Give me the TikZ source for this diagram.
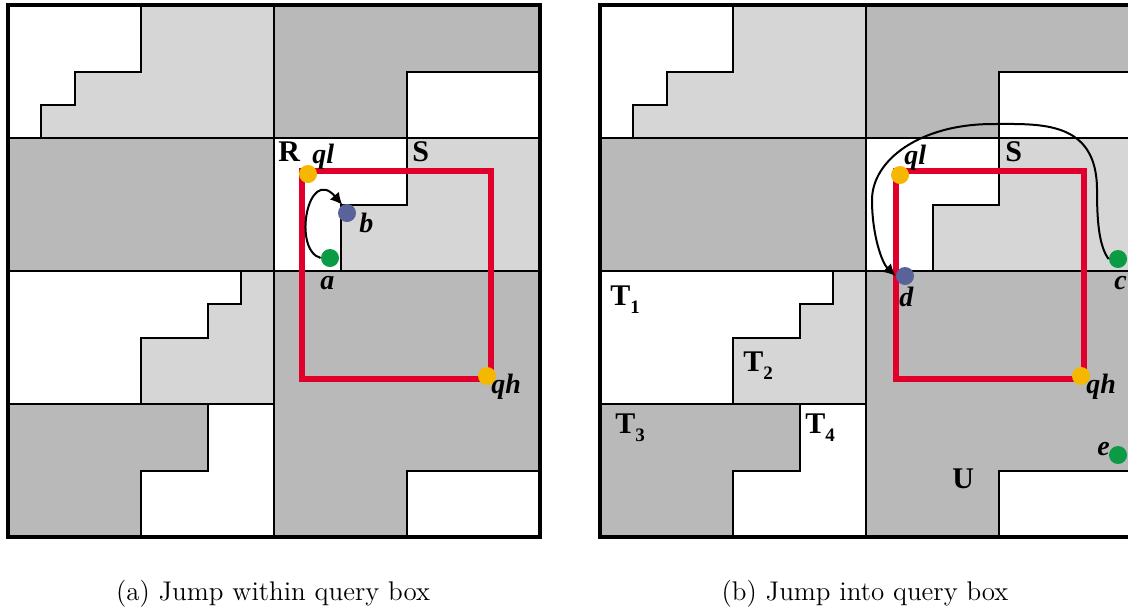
\documentclass[tikz,border=0pt]{standalone}
\usepackage{fontspec}
\newfontfamily\labfont{Liberation Serif}
\usetikzlibrary{arrows.meta}

\definecolor{darkcell}{HTML}{B9B9B9}
\definecolor{lightcell}{HTML}{D6D6D6}
\definecolor{qred}{HTML}{E1002B}
\definecolor{qorange}{HTML}{F5B700}
\definecolor{qblue}{HTML}{5A6399}
\definecolor{qgreen}{HTML}{0A9B44}

\tikzset{
  cellline/.style={line width=1pt},
  outerframe/.style={line width=1.75pt},
  qbox/.style={draw=qred, line width=2.6pt},
  pdot/.style={circle, inner sep=0pt, minimum size=9pt},
  region/.style={font=\labfont\fontsize{15}{15}\selectfont\bfseries, inner sep=0pt, anchor=base west},
  ptlabel/.style={font=\labfont\fontsize{14}{14}\selectfont\bfseries\itshape, inner sep=0pt, anchor=base west},
  jump/.style={line width=1pt, -{Latex[length=6pt,width=6pt]}},
  subcap/.style={font=\fontsize{13.5}{16}\selectfont, inner sep=0pt, anchor=base},
}

% region label with a subscript index
\newcommand\tsub[2]{#1\raisebox{-0.27em}{\fontsize{9.5}{9.5}\selectfont #2}}

% the 16x16 partition shared by both panels
\newcommand\basecells{%
  \begin{scope}[scale=33.25]
    \fill[white] (0,0) rectangle (16,16);
    \fill[lightcell] (4,0) -- (8,0) -- (8,4) -- (1,4) -- (1,3) -- (2,3) -- (2,2) -- (4,2) -- cycle;
    \fill[darkcell] (8,0) -- (16,0) -- (16,2) -- (12,2) -- (12,4) -- (8,4) -- cycle;
    \fill[darkcell] (0,4) rectangle (8,8);
    \fill[lightcell] (12,4) -- (16,4) -- (16,8) -- (10,8) -- (10,6) -- (12,6) -- cycle;
    \fill[lightcell] (7,8) -- (8,8) -- (8,12) -- (4,12) -- (4,10) -- (6,10) -- (6,9) -- (7,9) -- cycle;
    \fill[darkcell] (0,12) -- (6,12) -- (6,14) -- (4,14) -- (4,16) -- (0,16) -- cycle;
    \fill[darkcell] (8,8) -- (16,8) -- (16,14) -- (12,14) -- (12,16) -- (8,16) -- cycle;
    \draw[cellline] (8,0) -- (8,16) (0,4) -- (16,4) (0,8) -- (16,8) (0,12) -- (8,12);
    \draw[cellline] (4,0) -- (4,2) -- (2,2) -- (2,3) -- (1,3) -- (1,4);
    \draw[cellline] (16,2) -- (12,2) -- (12,6) -- (10,6) -- (10,8);
    \draw[cellline] (7,8) -- (7,9) -- (6,9) -- (6,10) -- (4,10) -- (4,12);
    \draw[cellline] (6,12) -- (6,14) -- (4,14) -- (4,16);
    \draw[cellline] (12,16) -- (12,14) -- (16,14);
    \draw[outerframe] (0,0) rectangle (16,16);
  \end{scope}}

\begin{document}
\begin{tikzpicture}[x=0.5pt, y=-0.5pt]
  \useasboundingbox (0,0) rectangle (1128,612);
  \clip (0,0) rectangle (1128,612);

  % (a) jump within the query box
  \begin{scope}[shift={(8,5)}]
    \basecells
    \draw[qbox] (294,166) rectangle (483,374);
    \node[pdot, fill=qorange] (qlA) at (300,169) {};
    \node[pdot, fill=qorange] (qhA) at (479,371) {};
    \node[pdot, fill=qblue] (b) at (339,208) {};
    \node[pdot, fill=qgreen] (a) at (322,253) {};
    \draw[jump] (a.west) .. controls (284,245) and (300,160) .. (b.120);
    \node[region] (R) at (270,156) {R};
    \node[region] (SA) at (404,156) {S};
    \node[ptlabel] (qlAlab) at (304,158) {ql};
    \node[ptlabel] (qhAlab) at (483,388) {qh};
    \node[ptlabel] (blab) at (351,227) {b};
    \node[ptlabel] (alab) at (312,284) {a};
  \end{scope}

  % (b) jump into the query box
  \begin{scope}[shift={(600,5)}]
    \basecells
    \draw[qbox] (296,166) rectangle (484,374);
    \node[pdot, fill=qorange] (qlB) at (300,170) {};
    \node[pdot, fill=qorange] (qhB) at (481,371) {};
    \node[pdot, fill=qblue] (d) at (305,271) {};
    \node[pdot, fill=qgreen] (c) at (518,254) {};
    \node[pdot, fill=qgreen] (e) at (518,450) {};
    \coordinate (arcR) at (497,185);
    \coordinate (arcT) at (393,119);
    \coordinate (arcL) at (272,195);
    \draw[jump] (c.west) .. controls (498,240) and (497,210) .. (arcR)
      .. controls (497,115) and (440,119) .. (arcT)
      .. controls (320,119) and (272,155) .. (arcL)
      .. controls (272,230) and (282,258) .. (d.west);
    \node[region] (SB) at (405,156) {S};
    \node[region] (U) at (352,483) {U};
    \node[region] (T1) at (10,300) {\tsub{T}{1}};
    \node[region] (T2) at (143,366) {\tsub{T}{2}};
    \node[region] (T3) at (15,428) {\tsub{T}{3}};
    \node[region] (T4) at (205,428) {\tsub{T}{4}};
    \node[ptlabel] (qlBlab) at (304,159) {ql};
    \node[ptlabel] (qhBlab) at (486,388) {qh};
    \node[ptlabel] (dlab) at (299,301) {d};
    \node[ptlabel] (clab) at (514,284) {c};
    \node[ptlabel] (elab) at (497,450) {e};
  \end{scope}

  \node[subcap] (capA) at (273,600) {(a) Jump within query box};
  \node[subcap] (capB) at (865,600) {(b) Jump into query box};
\end{tikzpicture}
\end{document}
